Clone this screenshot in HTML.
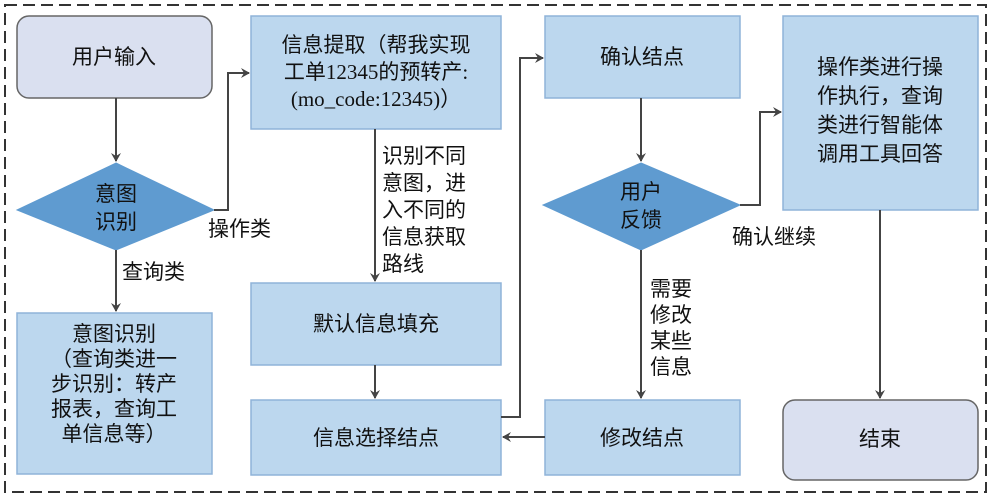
<!DOCTYPE html>
<html><head><meta charset="utf-8"><style>
html,body{margin:0;padding:0;background:#fff;}
svg text{font-family:"Liberation Sans","Noto Sans CJK SC",sans-serif;font-size:21px;fill:#111;}
</style></head><body>
<svg width="991" height="497" viewBox="0 0 991 497" xmlns="http://www.w3.org/2000/svg">
<defs><marker id="a" markerWidth="10" markerHeight="10" refX="8" refY="5" orient="auto" markerUnits="userSpaceOnUse"><path d="M0,0 L9,5 L0,10 L3,5 Z" fill="#444"/></marker></defs>
<rect x="5" y="5" width="981" height="487" fill="none" stroke="#333" stroke-width="2" stroke-dasharray="12,6"/>
<g fill="#bcd7ee" stroke="#8fb3d9" stroke-width="1.5">
<rect x="251" y="16" width="250" height="113"/>
<rect x="251" y="283" width="250" height="82"/>
<rect x="251" y="400" width="250" height="75"/>
<rect x="545" y="16" width="195" height="82"/>
<rect x="545" y="400" width="195" height="75"/>
<rect x="783" y="16" width="195" height="194"/>
<rect x="17" y="313" width="195" height="161"/>
</g>
<g fill="#dae0f0" stroke="#666" stroke-width="1.5">
<rect x="17" y="16" width="195" height="82" rx="12"/>
<rect x="783" y="400" width="195" height="80" rx="12"/>
</g>
<g fill="#5f9bd0" stroke="#5f9bd0">
<polygon points="116,163 214,210 116,250 17,210"/>
<polygon points="641,163 740,205 641,250 543,205"/>
</g>
<g fill="none" stroke="#444" stroke-width="2" marker-end="url(#a)">
<path d="M116,98 V161"/>
<path d="M214,210 H228 V73 H249"/>
<path d="M116,250 V311"/>
<path d="M375,129 V281"/>
<path d="M375,365 V398"/>
<path d="M501,417 H520 V58 H543"/>
<path d="M641,98 V161"/>
<path d="M740,205 H760 V112 H781"/>
<path d="M641,250 V398"/>
<path d="M545,437 H503"/>
<path d="M880,210 V398"/>
</g>
<g text-anchor="middle">
<text x="114" y="64">用户输入</text>
<text x="116" y="201">意图</text><text x="116" y="229">识别</text>
<text x="114" y="341">意图识别</text>
<text x="114" y="366">（查询类进一</text>
<text x="114" y="391">步识别：转产</text>
<text x="114" y="416">报表，查询工</text>
<text x="114" y="441">单信息等）</text>
<text x="376" y="52">信息提取（帮我实现</text>
<text x="376" y="79" style="font-family:'Liberation Serif','Noto Sans CJK SC',serif">工单12345的预转产:</text>
<text x="376" y="106" style="font-family:'Liberation Serif','Noto Sans CJK SC',serif">(mo_code:12345)）</text>
<text x="376" y="331">默认信息填充</text>
<text x="376" y="445">信息选择结点</text>
<text x="642" y="64">确认结点</text>
<text x="641" y="199">用户</text><text x="641" y="227">反馈</text>
<text x="642" y="445">修改结点</text>
<text x="880" y="74">操作类进行操</text>
<text x="880" y="103">作执行，查询</text>
<text x="880" y="132">类进行智能体</text>
<text x="880" y="161">调用工具回答</text>
<text x="880" y="446">结束</text>
</g>
<g>
<text x="208" y="236">操作类</text>
<text x="122" y="279">查询类</text>
<text x="382" y="163">识别不同</text>
<text x="382" y="190">意图，进</text>
<text x="382" y="217">入不同的</text>
<text x="382" y="244">信息获取</text>
<text x="382" y="271">路线</text>
<text x="732" y="244">确认继续</text>
<text x="650" y="296">需要</text>
<text x="650" y="322">修改</text>
<text x="650" y="348">某些</text>
<text x="650" y="374">信息</text>
</g>
</svg>
</body></html>
